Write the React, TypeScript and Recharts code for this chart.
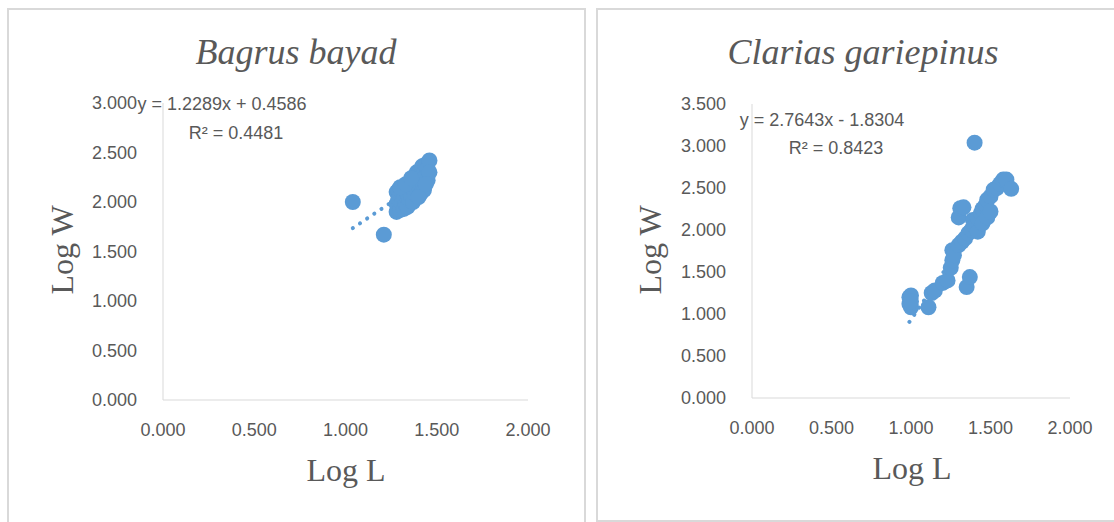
import React from "react";
import { ComposedChart, Scatter, Line, XAxis, YAxis } from "recharts";

// Bagrus bayad: log length vs log weight
const bagrusLogL = [
  1.04, 1.21, 1.28, 1.28, 1.28, 1.29, 1.29, 1.3, 1.3, 1.31, 1.31, 1.32, 1.32,
  1.33, 1.33, 1.34, 1.34, 1.35, 1.35, 1.36, 1.36, 1.37, 1.37, 1.38, 1.38, 1.39,
  1.39, 1.4, 1.4, 1.41, 1.41, 1.42, 1.42, 1.43, 1.43, 1.44, 1.44, 1.45, 1.45,
  1.46, 1.46, 1.3, 1.33, 1.36, 1.4, 1.44,
];
const bagrusLogW = [
  2.0, 1.67, 1.9, 1.98, 2.1, 2.03, 2.12, 1.92, 2.06, 1.99, 2.1, 1.93, 2.04,
  1.97, 2.12, 1.95, 2.08, 2.02, 2.14, 2.06, 2.18, 2.0, 2.22, 2.08, 2.26, 2.12,
  2.3, 2.16, 2.28, 2.08, 2.32, 2.2, 2.36, 2.12, 2.3, 2.26, 2.38, 2.22, 2.34,
  2.42, 2.3, 2.15, 2.18, 2.24, 2.05, 2.18,
];

// Clarias gariepinus
const clariasLogL = [
  0.99, 0.99, 1.0, 1.0, 1.0, 1.11, 1.13, 1.15, 1.2, 1.23, 1.25, 1.26, 1.26,
  1.27, 1.3, 1.3, 1.31, 1.33, 1.32, 1.34, 1.35, 1.37, 1.36, 1.38, 1.39, 1.4,
  1.42, 1.42, 1.44, 1.45, 1.47, 1.48, 1.5, 1.52, 1.54, 1.56, 1.58, 1.6, 1.63,
  1.4, 1.45, 1.48, 1.5,
];
const clariasLogW = [
  1.12, 1.2, 1.22, 1.08, 1.15, 1.08, 1.25, 1.28, 1.37, 1.4, 1.55, 1.64, 1.76,
  1.7, 1.82, 2.15, 2.26, 2.27, 1.86, 1.9, 1.32, 1.44, 1.96, 2.0, 2.12, 2.05,
  1.98, 2.14, 2.2, 2.25, 2.3, 2.36, 2.4, 2.48, 2.5, 2.55, 2.6, 2.6, 2.49, 3.04,
  2.08, 2.15, 2.22,
];

const xTicks = [0, 0.5, 1, 1.5, 2];
const bagrusYTicks = [0, 0.5, 1, 1.5, 2, 2.5, 3];
const clariasYTicks = [0, 0.5, 1, 1.5, 2, 2.5, 3, 3.5];

const bagrusFit = { slope: 1.2289, intercept: 0.4586 };
const clariasFit = { slope: 2.7643, intercept: -1.8304 };

const POINT = "#5b9bd5";
const TEXT = "#595959";
const GRID = "#d9d9d9";
const SANS = "'Liberation Sans', Arial, sans-serif";
const SERIF = "'Liberation Serif', 'Times New Roman', serif";

const toPoints = (xs: number[], ys: number[]) => xs.map((x, i) => ({ x, y: ys[i] }));

const trend = (xs: number[], fit: { slope: number; intercept: number }) => {
  const lo = Math.min(...xs);
  const hi = Math.max(...xs);
  return [lo, hi].map((x) => ({ x, y: fit.slope * x + fit.intercept }));
};

const fmt = (v: number) => v.toFixed(3);

const Dot = (p: any) => <circle cx={p.cx} cy={p.cy} r={8} fill={POINT} />;

type PanelProps = {
  xs: number[];
  ys: number[];
  fit: { slope: number; intercept: number };
  yTicks: number[];
  width: number;
  margin: { top: number; right: number; bottom: number; left: number };
};

function FishScatter({ xs, ys, fit, yTicks, width, margin }: PanelProps) {
  const tick = { fontSize: 18, fill: TEXT, fontFamily: SANS };
  return (
    <ComposedChart width={width} height={522} margin={margin}>
      <XAxis
        type="number"
        dataKey="x"
        domain={[0, 2]}
        ticks={xTicks}
        tickFormatter={fmt}
        tick={tick}
        tickLine={false}
        tickSize={0}
        tickMargin={23}
        height={30}
        axisLine={{ stroke: GRID }}
        allowDataOverflow
      />
      <YAxis
        type="number"
        dataKey="y"
        domain={[0, yTicks[yTicks.length - 1]]}
        ticks={yTicks}
        tickFormatter={fmt}
        tick={tick}
        tickLine={false}
        tickSize={0}
        tickMargin={26}
        width={60}
        axisLine={{ stroke: GRID }}
      />
      <Line
        data={trend(xs, fit)}
        dataKey="y"
        stroke={POINT}
        strokeWidth={4}
        strokeDasharray="0.1 8.5"
        strokeLinecap="round"
        dot={false}
        activeDot={false}
        isAnimationActive={false}
      />
      <Scatter
        data={toPoints(xs, ys)}
        dataKey="y"
        fill={POINT}
        shape={Dot}
        isAnimationActive={false}
      />
    </ComposedChart>
  );
}

const label = (
  text: React.ReactNode,
  left: number,
  top: number,
  style: React.CSSProperties
) => (
  <div
    style={{
      position: "absolute",
      left,
      top,
      transform: "translate(-50%, -50%)",
      whiteSpace: "nowrap",
      color: TEXT,
      lineHeight: 1,
      ...style,
    }}
  >
    {text}
  </div>
);

export default function App() {
  const title = { fontFamily: SERIF, fontStyle: "italic", fontSize: 36 };
  const axisTitle = { fontFamily: SERIF, fontSize: 32 };
  const eq = { fontFamily: SANS, fontSize: 18 };
  return (
    <div
      style={{
        position: "absolute",
        left: 0,
        top: 0,
        width: 1114,
        height: 522,
        overflow: "hidden",
        background: "#fff",
      }}
    >
      <div
        style={{
          position: "absolute",
          left: 7,
          top: 8,
          width: 575,
          height: 540,
          border: `2px solid ${GRID}`,
        }}
      />
      <div
        style={{
          position: "absolute",
          left: 596,
          top: 8,
          width: 540,
          height: 510,
          border: `2px solid ${GRID}`,
        }}
      />

      <div style={{ position: "absolute", left: 0, top: 0 }}>
        <FishScatter
          xs={bagrusLogL}
          ys={bagrusLogW}
          fit={bagrusFit}
          yTicks={bagrusYTicks}
          width={590}
          margin={{ top: 103, right: 62, bottom: 92, left: 103 }}
        />
      </div>
      <div style={{ position: "absolute", left: 590, top: 0 }}>
        <FishScatter
          xs={clariasLogL}
          ys={clariasLogW}
          fit={clariasFit}
          yTicks={clariasYTicks}
          width={524}
          margin={{ top: 104, right: 44, bottom: 94, left: 102 }}
        />
      </div>

      {label("Bagrus bayad", 296, 52, title)}
      {label("Clarias gariepinus", 863, 52, title)}
      {label("Log L", 346, 470, axisTitle)}
      {label("Log L", 912, 468, axisTitle)}
      {label("Log W", 62, 250, { ...axisTitle, transform: "translate(-50%, -50%) rotate(-90deg)" })}
      {label("Log W", 650, 250, { ...axisTitle, transform: "translate(-50%, -50%) rotate(-90deg)" })}

      {label("y = 1.2289x + 0.4586", 222, 104, eq)}
      {label(<span>R² = 0.4481</span>, 236, 133, eq)}
      {label("y = 2.7643x - 1.8304", 822, 120, eq)}
      {label(<span>R² = 0.8423</span>, 836, 148, eq)}
    </div>
  );
}
